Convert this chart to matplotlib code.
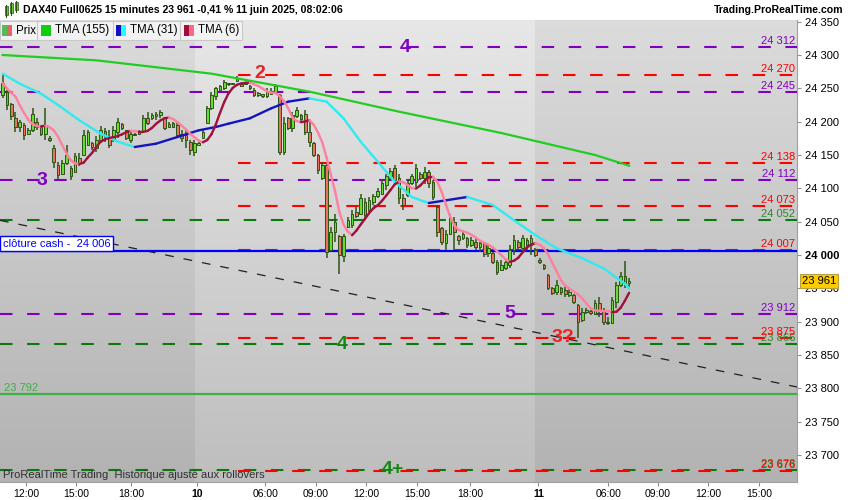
import numpy as np
import pandas as pd
import matplotlib
matplotlib.use('Agg')
import matplotlib.pyplot as plt
import matplotlib.transforms as mtransforms
from matplotlib.patches import Rectangle
from matplotlib.collections import LineCollection

plt.rcParams['font.family'] = ['Liberation Sans', 'DejaVu Sans']

# --- bougies 15 minutes (open, high, low, close) ---
opens = [24240, 24245, 24227, 24205, 24192, 24195, 24182, 24188, 24200, 24192,
         24182, 24176, 24160, 24135, 24122, 24138, 24130, 24125, 24145, 24150,
         24165, 24168, 24160, 24172, 24186, 24175, 24172, 24185, 24196, 24188,
         24172, 24180, 24182, 24186, 24205, 24205, 24208, 24210, 24205, 24192,
         24198, 24195, 24182, 24180, 24170, 24155, 24165, 24176, 24198, 24220,
         24238, 24247, 24250, 24257, 24256, 24261, 24257, 24256, 24254, 24248,
         24240, 24241, 24238, 24245, 24244, 24240, 24155, 24205, 24190, 24208,
         24210, 24212, 24185, 24168, 24150, 24115, 24135, 24008, 24035, 24028,
         23998, 24042, 24045, 24065, 24062, 24080, 24068, 24080, 24088, 24092,
         24105, 24118, 24130, 24115, 24085, 24090, 24108, 24110, 24122, 24115,
         24125, 24110, 24072, 24040, 24018, 24032, 24050, 24028, 24025, 24025,
         24015, 24020, 24012, 24018, 24003, 24003, 23990, 23978, 23980, 23985,
         24008, 24020, 24010, 24022, 24015, 24008, 23993, 23985, 23970, 23950,
         23945, 23950, 23947, 23940, 23940, 23925, 23902, 23915, 23916, 23912,
         23928, 23918, 23900, 23898, 23930, 23955, 23968, 23958]
highs = [24270, 24247, 24228, 24215, 24203, 24198, 24190, 24220, 24205, 24193,
         24220, 24178, 24165, 24140, 24143, 24165, 24133, 24153, 24153, 24188,
         24188, 24170, 24178, 24193, 24190, 24188, 24193, 24205, 24198, 24188,
         24185, 24183, 24188, 24210, 24215, 24213, 24215, 24218, 24205, 24200,
         24200, 24198, 24188, 24188, 24173, 24173, 24170, 24188, 24223, 24245,
         24252, 24255, 24262, 24258, 24258, 24268, 24258, 24260, 24255, 24250,
         24245, 24242, 24250, 24250, 24257, 24242, 24207, 24207, 24215, 24222,
         24212, 24217, 24202, 24170, 24152, 24140, 24137, 24042, 24062, 24030,
         24032, 24057, 24067, 24072, 24092, 24085, 24087, 24092, 24100, 24112,
         24122, 24130, 24135, 24122, 24092, 24112, 24122, 24137, 24125, 24132,
         24127, 24112, 24075, 24042, 24037, 24062, 24057, 24030, 24037, 24027,
         24027, 24025, 24022, 24020, 24015, 24005, 23992, 23992, 23992, 24015,
         24030, 24022, 24030, 24025, 24030, 24010, 23995, 23987, 23972, 23952,
         23962, 23952, 23952, 23950, 23942, 23927, 23920, 23920, 23917, 23932,
         23937, 23920, 23907, 23937, 23960, 23975, 23991, 23965]
lows = [24235, 24218, 24203, 24185, 24185, 24173, 24180, 24185, 24188, 24178,
        24173, 24170, 24130, 24113, 24120, 24135, 24113, 24123, 24133, 24148,
        24163, 24158, 24155, 24168, 24170, 24160, 24170, 24175, 24188, 24173,
        24168, 24178, 24180, 24185, 24195, 24203, 24203, 24205, 24188, 24190,
        24190, 24178, 24170, 24160, 24150, 24148, 24163, 24175, 24198, 24218,
        24232, 24245, 24248, 24254, 24255, 24260, 24252, 24255, 24248, 24237,
        24237, 24235, 24235, 24240, 24242, 24150, 24150, 24187, 24185, 24205,
        24200, 24180, 24162, 24147, 24122, 24112, 23995, 24005, 24020, 23972,
        23990, 24040, 24040, 24055, 24060, 24052, 24065, 24075, 24085, 24090,
        24097, 24112, 24107, 24077, 24067, 24087, 24105, 24102, 24112, 24107,
        24100, 24082, 24027, 24015, 24007, 24030, 24007, 24015, 24022, 24010,
        24012, 24007, 24005, 23997, 23997, 23987, 23970, 23977, 23977, 23980,
        24000, 24007, 24005, 24007, 24000, 23997, 23987, 23977, 23947, 23940,
        23940, 23940, 23937, 23937, 23927, 23875, 23900, 23912, 23910, 23910,
        23907, 23895, 23895, 23897, 23920, 23952, 23950, 23952]
closes = [24258, 24225, 24208, 24192, 24200, 24180, 24188, 24212, 24192, 24182,
          24195, 24172, 24140, 24120, 24138, 24150, 24118, 24148, 24138, 24180,
          24185, 24162, 24172, 24188, 24178, 24165, 24188, 24200, 24190, 24176,
          24182, 24181, 24186, 24205, 24198, 24210, 24212, 24214, 24190, 24196,
          24192, 24180, 24176, 24172, 24158, 24168, 24168, 24185, 24220, 24240,
          24250, 24253, 24260, 24256, 24257, 24266, 24254, 24258, 24250, 24240,
          24243, 24238, 24246, 24242, 24254, 24155, 24198, 24190, 24210, 24218,
          24204, 24185, 24170, 24150, 24128, 24135, 24005, 24035, 24050, 24000,
          24028, 24052, 24062, 24058, 24085, 24060, 24082, 24088, 24096, 24108,
          24118, 24126, 24112, 24085, 24075, 24108, 24118, 24130, 24115, 24125,
          24108, 24087, 24035, 24020, 24032, 24055, 24035, 24022, 24032, 24015,
          24022, 24012, 24018, 24002, 24010, 23990, 23975, 23985, 23990, 24008,
          24022, 24012, 24025, 24015, 24025, 24000, 23990, 23980, 23950, 23943,
          23955, 23945, 23942, 23945, 23930, 23900, 23915, 23918, 23913, 23928,
          23918, 23900, 23898, 23932, 23955, 23968, 23958, 23961]

# moyennes longues (indice de bougie, valeur)
tma155_idx = [0, 22, 49, 72, 93, 117, 139, 147]
tma155_val = [24300, 24292, 24272, 24245, 24215, 24183, 24150, 24134]
tma31_idx = [0, 4, 9, 13, 18, 23, 27, 31, 36, 41, 46, 50, 53, 58, 63, 67, 72, 76,
             80, 84, 88, 92, 96, 99, 100, 104, 109, 115, 120, 125, 130, 136, 141,
             146, 147]
tma31_val = [24272, 24257, 24242, 24225, 24202, 24182, 24170, 24162, 24167, 24177,
             24187, 24192, 24197, 24205, 24220, 24230, 24235, 24230, 24205, 24170,
             24140, 24110, 24087, 24080, 24078, 24082, 24087, 24075, 24052, 24030,
             24010, 23995, 23980, 23957, 23950]

# niveaux
purple_levels = [24312, 24245, 24112, 23912]
green_levels = [24052, 23866, 23678]
red_levels = [24270, 24138, 24073, 24007, 23875, 23676]
cash_close = 24006
support = 23792
trend_start, trend_end = 24052, 23802

# étiquettes sur le graphique (texte, indice, valeur, couleur)
marks = [('4', 94.4, 24312, '#8000c0'), ('2', 60.4, 24272, '#ee2222'),
         ('3', 9.2, 24112, '#8000c0'), ('5', 118.9, 23912, '#8000c0'),
         ('3?', 131.5, 23876, '#ee2222'), ('4', 79.7, 23866, '#118811'),
         ('4+', 91.6, 23678, '#118811')]

tick_pos = [5.5, 17.2, 30.1, 45.6, 61.6, 73.5, 85.3, 97.3, 109.7, 125.7,
            142.1, 153.8, 165.6, 177.5]
tick_lab = ['12:00', '15:00', '18:00', '10', '06:00', '09:00', '12:00',
            '15:00', '18:00', '11', '06:00', '09:00', '12:00', '15:00']
day_starts = [45.2, 125.0]

x0, x1 = -0.63, 186.4
y0, y1 = 23659.5, 24352.5

fig = plt.figure(figsize=(8.5, 5), dpi=100)
ax = fig.add_axes([0, 18 / 500, 797 / 850, 462 / 500])
ax.set_xlim(x0, x1)
ax.set_ylim(y0, y1)

# fond en dégradé, jours alternés
grad = np.linspace(0, 1, 64).reshape(-1, 1)
spans = [(x0, day_starts[0], 0.86, 0.70), (day_starts[0], day_starts[1], 0.905, 0.745),
         (day_starts[1], x1, 0.86, 0.70)]
for a, b, top, bot in spans:
    img = top + (bot - top) * grad
    ax.imshow(np.dstack([img, img, img]), extent=[a, b, y0, y1], aspect='auto',
              origin='upper', zorder=0, interpolation='bilinear')

# niveaux horizontaux
dash = (0, (6, 7))
xr = 238 / 797
for v in purple_levels:
    ax.axhline(v, color='#8000c0', lw=1.5, ls=dash, zorder=3)
for v in green_levels:
    ax.axhline(v, color='#0a7a0a', lw=1.5, ls=dash, zorder=3)
for v in red_levels:
    ax.axhline(v, xmin=xr, color='#ff0000', lw=1.5, ls=dash, zorder=3)
ax.axhline(cash_close, color='#0000ff', lw=1.6, zorder=3)
ax.axhline(support, color='#3cb043', lw=1.6, zorder=3)
ax.plot([x0, x1], [trend_start, trend_end], color='#202020', lw=0.9,
        ls=(0, (7, 8)), zorder=3)


def fmt(v):
    return f'{v:,}'.replace(',', ' ')


for v in green_levels:
    ax.text(x1 - 0.4, v + 1.5, fmt(v), color='#2a8a2a', fontsize=8,
            ha='right', va='bottom', zorder=4)
for v in purple_levels:
    ax.text(x1 - 0.4, v + 1.5, fmt(v), color='#8000c0', fontsize=8,
            ha='right', va='bottom', zorder=4)
for v in red_levels:
    ax.text(x1 - 0.4, v + 1.5, fmt(v), color='#ff0000', fontsize=8,
            ha='right', va='bottom', zorder=4)
ax.text(0.2, support + 1.5, fmt(support), color='#3cb043', fontsize=8,
        ha='left', va='bottom', zorder=4)
ax.text(0.0, cash_close + 3.5, 'clôture cash -  ' + fmt(cash_close), color='#0000ff',
        fontsize=8, ha='left', va='bottom', zorder=6,
        bbox=dict(boxstyle='square,pad=0.2', fc='white', ec='#0000ff', lw=1))

# bougies
idx = np.arange(len(closes))
o = np.array(opens)
c = np.array(closes)
dark = '#2b5514'
ax.vlines(idx, lows, highs, color=dark, lw=1.1, zorder=4)
body_bot = np.minimum(o, c)
body_h = np.maximum(np.abs(c - o), 1.5)
fills = np.where(c >= o, '#66dd33', '#e8735e')
ax.bar(idx, body_h, bottom=body_bot, width=0.62, color=fills, edgecolor=dark,
       linewidth=0.7, zorder=5)


# moyennes mobiles
def colored_line(xs, ys, up, down, lw):
    xs = np.asarray(xs, float)
    ys = np.asarray(ys, float)
    segs = [[(xs[k], ys[k]), (xs[k + 1], ys[k + 1])] for k in range(len(xs) - 1)]
    cols = [up if ys[k + 1] >= ys[k] else down for k in range(len(xs) - 1)]
    ax.add_collection(LineCollection(segs, colors=cols, linewidths=lw,
                                     capstyle='round', joinstyle='round', zorder=7))


ax.plot(tma155_idx, tma155_val, color='#22cc22', lw=1.6, zorder=7)
colored_line(tma31_idx, tma31_val, '#1515c0', '#30eaf0', 1.7)
s = pd.Series(closes, dtype=float)
tma6 = s.rolling(4, min_periods=1).mean().rolling(4, min_periods=1).mean()
colored_line(idx, tma6.values, '#a0103c', '#ff7f9f', 1.7)

for txt, xi, v, col in marks:
    ax.text(xi, v, txt, color=col, fontsize=14, fontweight='bold',
            ha='center', va='center', zorder=8)

ax.text(0.004, 0.016, 'ProRealTime Trading  Historique ajusté aux rollovers',
        transform=ax.transAxes, fontsize=8, color='#303030', va='center',
        family=['Liberation Sans Narrow', 'Liberation Sans', 'DejaVu Sans'], zorder=8)

# axes
ax.yaxis.tick_right()
yt = np.arange(23700, 24351, 50)
ax.set_yticks(yt)
ax.set_yticklabels([fmt(v) for v in yt])
for lab, v in zip(ax.get_yticklabels(), yt):
    if v == 24000:
        lab.set_fontweight('bold')
        lab.set_fontsize(9)
ax.tick_params(axis='y', labelsize=8, length=3, color='#909090', pad=3)
ax.set_xticks(tick_pos)
ax.set_xticklabels(tick_lab)
for lab in ax.get_xticklabels():
    if lab.get_text() in ('10', '11'):
        lab.set_fontweight('bold')
        lab.set_fontsize(9)
ax.tick_params(axis='x', labelsize=7.5, length=3, color='#909090', pad=2)
for side in ('top', 'left'):
    ax.spines[side].set_visible(False)
ax.spines['right'].set_color('#a0a0a0')
ax.spines['bottom'].set_color('#a0a0a0')

# prix courant
tr = mtransforms.blended_transform_factory(ax.transAxes, ax.transData)
ax.text(1.006, closes[-1], fmt(closes[-1]), transform=tr, fontsize=8, ha='left',
        va='center', zorder=20, clip_on=False,
        bbox=dict(boxstyle='square,pad=0.15', fc='#ffcc00', ec='#b8a040', lw=0.8))


# en-tête
def fx(px):
    return px / 850


def fy(py):
    return 1 - py / 500


fig.text(fx(23), fy(10), 'DAX40 Full0625 15 minutes 23 961 -0,41 % 11 juin 2025, 08:02:06',
         fontsize=7.6, fontweight='bold', va='center', ha='left')
fig.text(fx(843), fy(10), 'Trading.ProRealTime.com', fontsize=7.6,
         fontweight='bold', va='center', ha='right')
for k, (xa, ya, yb) in enumerate([(6, 6, 15), (11, 3, 13), (16, 2, 10)]):
    fig.add_artist(plt.Line2D([fx(xa), fx(xa)], [fy(yb + 2), fy(ya - 1)],
                              color='#2b5514', lw=0.8))
    fig.add_artist(Rectangle((fx(xa - 1.5), fy(yb)), fx(3), fy(ya) - fy(yb),
                             fc='#66cc33', ec='#2b5514', lw=0.5))

# légende des indicateurs
fig.add_artist(Rectangle((0, fy(40)), fx(242), fy(21) - fy(40), fc='#f2f2f2',
                         ec='#c8c8c8', lw=0.8, zorder=10))
for sx in (37, 113, 180):
    fig.add_artist(plt.Line2D([fx(sx), fx(sx)], [fy(40), fy(21)], color='#c8c8c8',
                              lw=0.8, zorder=11))
legend_items = [(2, ('#55bb55', '#e06666'), 'Prix'),
                (41, ('#11cc11', '#11cc11'), 'TMA (155)'),
                (116, ('#1111cc', '#22ffff'), 'TMA (31)'),
                (184, ('#a0103c', '#ff6688'), 'TMA (6)')]
for lx, (ca, cb), txt in legend_items:
    fig.add_artist(Rectangle((fx(lx), fy(36)), fx(5), fy(25) - fy(36), fc=ca,
                             ec='none', zorder=11))
    fig.add_artist(Rectangle((fx(lx + 5), fy(36)), fx(5), fy(25) - fy(36), fc=cb,
                             ec='none', zorder=11))
    fig.text(fx(lx + 14), fy(30.5), txt, fontsize=8.3, va='center', ha='left',
             zorder=12)

fig.savefig('out.png', dpi=100, facecolor='white')
